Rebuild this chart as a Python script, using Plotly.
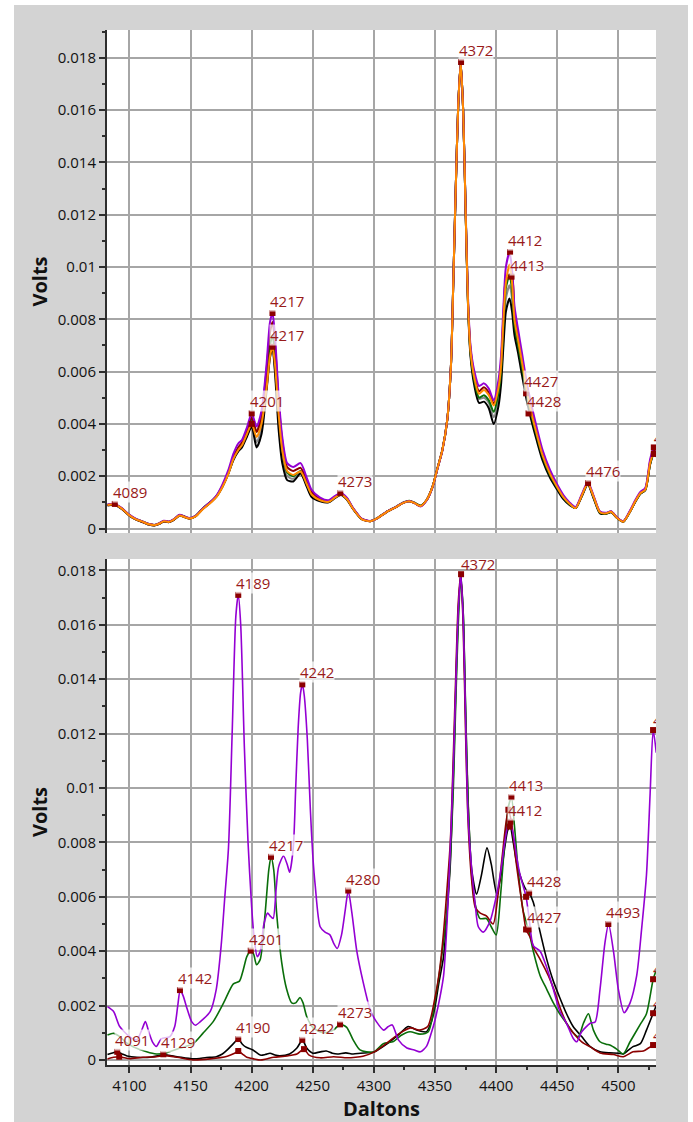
import plotly.graph_objects as go

# ---------------- data: top panel (6 overlaid spectra) ----------------
TOP_X = [4082, 4088, 4094, 4100, 4105, 4110, 4116, 4121, 4125, 4128,
         4132, 4136, 4141, 4145, 4149, 4154, 4160, 4166, 4171, 4176,
         4181, 4185, 4189, 4192, 4196, 4200, 4204, 4208, 4212, 4215,
         4217, 4219, 4222, 4225, 4229, 4234, 4240, 4245, 4249, 4256,
         4263, 4268, 4273, 4278, 4283, 4290, 4297, 4303, 4310, 4318,
         4324, 4329, 4333, 4338, 4343, 4348, 4352, 4356, 4360, 4363,
         4365, 4367, 4369, 4371, 4373, 4375, 4377, 4379, 4382, 4386,
         4390, 4394, 4398, 4402, 4404, 4406, 4408, 4411, 4413, 4415,
         4418, 4421, 4425, 4429, 4433, 4438, 4444, 4450, 4455, 4460,
         4465, 4470, 4475, 4480, 4485, 4490, 4494, 4499, 4504, 4509,
         4514, 4518, 4522, 4526, 4529, 4531]

TOP_ORANGE = [0.00090, 0.00092, 0.00075, 0.00050, 0.00036, 0.00027, 0.00016, 0.00013, 0.00020, 0.00028,
              0.00025, 0.00033, 0.00050, 0.00044, 0.00038, 0.00046, 0.00074, 0.00097, 0.00120, 0.00158,
              0.00210, 0.00265, 0.00300, 0.00318, 0.00360, 0.00400, 0.00350, 0.00400, 0.00530, 0.00660,
              0.00695, 0.00630, 0.00440, 0.00300, 0.00220, 0.00205, 0.00218, 0.00170, 0.00130, 0.00108,
              0.00102, 0.00118, 0.00130, 0.00112, 0.00075, 0.00036, 0.00028, 0.00040, 0.00062, 0.00082,
              0.00098, 0.00104, 0.00098, 0.00086, 0.00108, 0.00160, 0.00230, 0.00300, 0.00415, 0.00620,
              0.00950, 0.01310, 0.01620, 0.01784, 0.01600, 0.01220, 0.00860, 0.00680, 0.00580, 0.00515,
              0.00530, 0.00510, 0.00470, 0.00540, 0.00620, 0.00800, 0.00940, 0.01010, 0.00940, 0.00800,
              0.00720, 0.00640, 0.00530, 0.00440, 0.00365, 0.00280, 0.00210, 0.00158, 0.00120, 0.00095,
              0.00078, 0.00125, 0.00172, 0.00118, 0.00062, 0.00058, 0.00064, 0.00040, 0.00026, 0.00060,
              0.00105, 0.00135, 0.00148, 0.00250, 0.00290, 0.00280]

TOP_PURPLE = [0.00092, 0.00094, 0.00077, 0.00052, 0.00038, 0.00028, 0.00017, 0.00014, 0.00022, 0.00030,
              0.00027, 0.00035, 0.00053, 0.00046, 0.00040, 0.00048, 0.00077, 0.00100, 0.00125, 0.00168,
              0.00225, 0.00285, 0.00325, 0.00338, 0.00385, 0.00440, 0.00390, 0.00450, 0.00620, 0.00790,
              0.00824, 0.00740, 0.00510, 0.00350, 0.00250, 0.00235, 0.00250, 0.00195, 0.00148, 0.00118,
              0.00108, 0.00124, 0.00136, 0.00117, 0.00078, 0.00038, 0.00029, 0.00040, 0.00063, 0.00083,
              0.00099, 0.00105, 0.00098, 0.00084, 0.00106, 0.00158, 0.00228, 0.00298, 0.00415, 0.00620,
              0.00950, 0.01310, 0.01620, 0.01784, 0.01600, 0.01230, 0.00880, 0.00700, 0.00605, 0.00545,
              0.00555, 0.00535, 0.00490, 0.00570, 0.00660, 0.00850, 0.01000, 0.01057, 0.00990, 0.00850,
              0.00760, 0.00675, 0.00560, 0.00470, 0.00390, 0.00300, 0.00225, 0.00168, 0.00128, 0.00100,
              0.00082, 0.00130, 0.00178, 0.00122, 0.00065, 0.00060, 0.00066, 0.00042, 0.00028, 0.00064,
              0.00110, 0.00140, 0.00155, 0.00265, 0.00310, 0.00300]

TOP_BLACK = [0.00088, 0.00090, 0.00074, 0.00049, 0.00035, 0.00026, 0.00015, 0.00012, 0.00019, 0.00027,
             0.00024, 0.00032, 0.00050, 0.00044, 0.00038, 0.00047, 0.00076, 0.00100, 0.00122, 0.00160,
             0.00212, 0.00262, 0.00295, 0.00310, 0.00350, 0.00390, 0.00310, 0.00360, 0.00520, 0.00655,
             0.00690, 0.00600, 0.00380, 0.00250, 0.00185, 0.00180, 0.00210, 0.00160, 0.00120, 0.00104,
             0.00100, 0.00116, 0.00128, 0.00110, 0.00074, 0.00036, 0.00028, 0.00040, 0.00062, 0.00082,
             0.00098, 0.00104, 0.00098, 0.00086, 0.00108, 0.00160, 0.00230, 0.00300, 0.00415, 0.00620,
             0.00950, 0.01310, 0.01620, 0.01784, 0.01600, 0.01220, 0.00850, 0.00660, 0.00550, 0.00480,
             0.00485, 0.00460, 0.00400, 0.00470, 0.00550, 0.00700, 0.00830, 0.00880, 0.00830, 0.00740,
             0.00670, 0.00590, 0.00490, 0.00410, 0.00340, 0.00260, 0.00195, 0.00148, 0.00112, 0.00090,
             0.00078, 0.00122, 0.00168, 0.00112, 0.00058, 0.00056, 0.00062, 0.00040, 0.00026, 0.00060,
             0.00103, 0.00133, 0.00146, 0.00245, 0.00285, 0.00275]

TOP_GREEN = [0.00091, 0.00093, 0.00076, 0.00051, 0.00037, 0.00028, 0.00017, 0.00014, 0.00021, 0.00029,
             0.00026, 0.00034, 0.00052, 0.00046, 0.00039, 0.00048, 0.00077, 0.00100, 0.00123, 0.00163,
             0.00218, 0.00272, 0.00308, 0.00325, 0.00370, 0.00420, 0.00370, 0.00420, 0.00570, 0.00700,
             0.00740, 0.00660, 0.00460, 0.00310, 0.00215, 0.00200, 0.00220, 0.00172, 0.00132, 0.00110,
             0.00104, 0.00120, 0.00132, 0.00114, 0.00076, 0.00037, 0.00029, 0.00041, 0.00063, 0.00083,
             0.00100, 0.00106, 0.00100, 0.00088, 0.00108, 0.00160, 0.00230, 0.00300, 0.00415, 0.00620,
             0.00950, 0.01310, 0.01620, 0.01784, 0.01600, 0.01220, 0.00860, 0.00675, 0.00570, 0.00500,
             0.00510, 0.00490, 0.00446, 0.00520, 0.00600, 0.00780, 0.00920, 0.00970, 0.00910, 0.00780,
             0.00700, 0.00620, 0.00520, 0.00430, 0.00358, 0.00275, 0.00205, 0.00155, 0.00118, 0.00094,
             0.00078, 0.00124, 0.00171, 0.00116, 0.00060, 0.00057, 0.00063, 0.00040, 0.00026, 0.00060,
             0.00104, 0.00134, 0.00147, 0.00248, 0.00288, 0.00278]

TOP_RED = [0.00090, 0.00092, 0.00075, 0.00050, 0.00036, 0.00027, 0.00016, 0.00013, 0.00020, 0.00028,
           0.00025, 0.00033, 0.00051, 0.00045, 0.00038, 0.00047, 0.00075, 0.00098, 0.00122, 0.00162,
           0.00215, 0.00272, 0.00310, 0.00328, 0.00372, 0.00425, 0.00370, 0.00430, 0.00600, 0.00750,
           0.00790, 0.00710, 0.00490, 0.00335, 0.00235, 0.00220, 0.00232, 0.00182, 0.00140, 0.00112,
           0.00105, 0.00121, 0.00133, 0.00114, 0.00076, 0.00037, 0.00028, 0.00040, 0.00062, 0.00082,
           0.00098, 0.00104, 0.00098, 0.00086, 0.00108, 0.00160, 0.00230, 0.00300, 0.00415, 0.00620,
           0.00950, 0.01310, 0.01620, 0.01784, 0.01600, 0.01220, 0.00865, 0.00690, 0.00590, 0.00525,
           0.00540, 0.00520, 0.00478, 0.00550, 0.00630, 0.00815, 0.00950, 0.00963, 0.00963, 0.00820,
           0.00735, 0.00655, 0.00540, 0.00450, 0.00372, 0.00285, 0.00215, 0.00160, 0.00122, 0.00097,
           0.00079, 0.00126, 0.00173, 0.00119, 0.00063, 0.00059, 0.00065, 0.00041, 0.00027, 0.00061,
           0.00106, 0.00136, 0.00150, 0.00255, 0.00300, 0.00290]

TOP_GREY = [0.00089, 0.00091, 0.00074, 0.00049, 0.00035, 0.00026, 0.00015, 0.00012, 0.00019, 0.00027,
            0.00024, 0.00032, 0.00050, 0.00044, 0.00038, 0.00046, 0.00075, 0.00099, 0.00121, 0.00159,
            0.00211, 0.00264, 0.00298, 0.00314, 0.00355, 0.00395, 0.00330, 0.00380, 0.00530, 0.00660,
            0.00695, 0.00610, 0.00410, 0.00270, 0.00200, 0.00190, 0.00212, 0.00165, 0.00125, 0.00106,
            0.00101, 0.00117, 0.00129, 0.00111, 0.00075, 0.00036, 0.00028, 0.00040, 0.00062, 0.00082,
            0.00098, 0.00104, 0.00098, 0.00086, 0.00108, 0.00160, 0.00230, 0.00300, 0.00415, 0.00620,
            0.00950, 0.01310, 0.01620, 0.01784, 0.01600, 0.01220, 0.00855, 0.00670, 0.00565, 0.00495,
            0.00500, 0.00480, 0.00425, 0.00500, 0.00580, 0.00740, 0.00880, 0.00930, 0.00880, 0.00770,
            0.00690, 0.00610, 0.00505, 0.00422, 0.00350, 0.00268, 0.00200, 0.00152, 0.00115, 0.00092,
            0.00078, 0.00123, 0.00170, 0.00114, 0.00060, 0.00057, 0.00063, 0.00040, 0.00026, 0.00060,
            0.00104, 0.00134, 0.00147, 0.00247, 0.00287, 0.00277]

TOP_PEAK_X = [4088, 4200, 4200, 4217, 4217, 4272.5, 4371.3, 4411.4, 4412.6, 4424.5, 4426.5, 4475.2, 4529, 4529]
TOP_PEAK_Y = [0.00094, 0.0044, 0.0040, 0.00824, 0.00695, 0.00136, 0.01784, 0.01057, 0.00963, 0.00517, 0.0044, 0.00174, 0.0031, 0.00285]
TOP_PEAK_LABEL = ["4089", "4201", "", "4217", "4217", "4273", "4372", "4412", "4413", "4427", "4428", "4476", "4529", ""]

# ---------------- data: bottom panel (4 spectra) ----------------
BOT_PURPLE_X = [4082, 4087, 4092, 4100, 4106, 4110, 4113, 4116, 4119, 4122,
                4126, 4133, 4137, 4139.5, 4141.5, 4144, 4147, 4151, 4154, 4158,
                4166, 4171, 4175, 4178, 4181, 4184, 4187, 4189, 4191, 4194,
                4197, 4200, 4202, 4204.5, 4207, 4210, 4213, 4215, 4217.5, 4220,
                4222, 4226, 4229, 4231, 4234, 4236, 4238, 4240, 4241.5, 4243,
                4245.5, 4248, 4250, 4252, 4256, 4260, 4264, 4267, 4270, 4273.5,
                4276.5, 4279, 4282, 4286, 4291, 4297, 4302, 4308, 4311.5, 4315,
                4320, 4327, 4333, 4338, 4343, 4347, 4350, 4354, 4357, 4360,
                4362.5, 4365, 4367, 4369, 4371, 4373, 4375, 4377, 4380, 4382.7,
                4385.4, 4389.5, 4395, 4400.5, 4404, 4407, 4409.5, 4411.5, 4414, 4417,
                4419.6, 4424.5, 4427, 4430.4, 4436, 4441.4, 4446.8, 4452, 4457.6, 4463,
                4466, 4470, 4477, 4481, 4485, 4489, 4492, 4496, 4500, 4504.7,
                4509.6, 4515, 4519, 4523, 4526, 4528.5, 4531]
BOT_PURPLE_Y = [0.00196, 0.00178, 0.00123, 0.00086, 0.00074, 0.00110, 0.00141, 0.00100, 0.00065, 0.00050,
                0.00078, 0.00086, 0.00123, 0.00200, 0.00257, 0.00235, 0.00190, 0.00140, 0.00128, 0.00141,
                0.00178, 0.00260, 0.00420, 0.00600, 0.00780, 0.01200, 0.01630, 0.01710, 0.01600, 0.01150,
                0.00800, 0.00560, 0.00450, 0.00380, 0.00400, 0.00500, 0.00540, 0.00530, 0.00520, 0.00630,
                0.00710, 0.00750, 0.00720, 0.00690, 0.00780, 0.01000, 0.01220, 0.01350, 0.01381, 0.01340,
                0.01180, 0.00920, 0.00750, 0.00640, 0.00490, 0.00470, 0.00460, 0.00430, 0.00410, 0.00460,
                0.00550, 0.00623, 0.00540, 0.00400, 0.00290, 0.00184, 0.00141, 0.00110, 0.00122, 0.00129,
                0.00074, 0.00044, 0.00037, 0.00030, 0.00050, 0.00100, 0.00147, 0.00230, 0.00310, 0.00520,
                0.00780, 0.01080, 0.01380, 0.01650, 0.01786, 0.01630, 0.01250, 0.00900, 0.00700, 0.00580,
                0.00490, 0.00470, 0.00510, 0.00610, 0.00700, 0.00800, 0.00860, 0.00876, 0.00830, 0.00740,
                0.00680, 0.00600, 0.00520, 0.00420, 0.00400, 0.00340, 0.00260, 0.00180, 0.00135, 0.00080,
                0.00067, 0.00104, 0.00135, 0.00140, 0.00260, 0.00430, 0.00500, 0.00400, 0.00260, 0.00174,
                0.00210, 0.00310, 0.00480, 0.00680, 0.00980, 0.01213, 0.01130]

BOT_BLACK_X = [4082, 4086, 4090, 4094, 4098, 4106, 4117, 4128, 4139, 4152,
               4163, 4171, 4176, 4180, 4185, 4189, 4192, 4195, 4201, 4207,
               4211, 4215, 4219, 4223, 4231, 4237, 4241.5, 4245, 4250, 4256,
               4261, 4266, 4270, 4277, 4283, 4289, 4300, 4305, 4311, 4320,
               4328, 4335, 4343, 4347, 4350, 4353, 4357, 4360, 4362.5, 4365,
               4367, 4369, 4371, 4373, 4375, 4377, 4380, 4384, 4388, 4392.5,
               4396, 4400.5, 4404, 4407, 4409.5, 4411.5, 4414, 4417, 4421, 4424,
               4427, 4430.4, 4436, 4441.4, 4446.8, 4452, 4457.6, 4463, 4470, 4477,
               4485, 4493, 4500, 4504, 4508, 4512, 4518, 4523, 4528.5, 4531]
BOT_BLACK_Y = [0.00020, 0.00026, 0.00030, 0.00022, 0.00015, 0.00010, 0.00010, 0.00019, 0.00012, 0.00004,
               0.00009, 0.00012, 0.00022, 0.00037, 0.00060, 0.00077, 0.00060, 0.00048, 0.00037, 0.00018,
               0.00020, 0.00025, 0.00018, 0.00015, 0.00022, 0.00044, 0.00074, 0.00044, 0.00025, 0.00030,
               0.00033, 0.00025, 0.00022, 0.00026, 0.00022, 0.00025, 0.00029, 0.00042, 0.00060, 0.00092,
               0.00123, 0.00110, 0.00104, 0.00140, 0.00196, 0.00280, 0.00380, 0.00550, 0.00720, 0.01050,
               0.01360, 0.01640, 0.01786, 0.01650, 0.01280, 0.00950, 0.00700, 0.00610, 0.00680, 0.00780,
               0.00720, 0.00610, 0.00680, 0.00780, 0.00845, 0.00858, 0.00800, 0.00720, 0.00660, 0.00630,
               0.00615, 0.00580, 0.00470, 0.00370, 0.00290, 0.00230, 0.00170, 0.00123, 0.00086, 0.00049,
               0.00030, 0.00026, 0.00025, 0.00022, 0.00035, 0.00049, 0.00060, 0.00110, 0.00172, 0.00200]

BOT_RED_X = [4082, 4087, 4091.6, 4096, 4100, 4111, 4122, 4128, 4139, 4152,
             4166, 4180, 4186, 4189, 4193, 4196, 4202, 4207, 4212, 4218,
             4229, 4237, 4242.8, 4247, 4256, 4267, 4278, 4285, 4291, 4300,
             4310, 4321, 4330, 4337, 4344, 4350, 4354, 4357, 4360, 4362.5,
             4365, 4367, 4369, 4371, 4373, 4375, 4377, 4380, 4383, 4387,
             4392, 4397.5, 4401.6, 4405, 4408, 4410, 4413, 4416, 4419, 4422,
             4424.5, 4428, 4431, 4436, 4442.7, 4445.5, 4448, 4452, 4457.6, 4463,
             4470, 4477, 4485, 4496, 4504, 4512, 4520.5, 4525, 4528.5, 4531]
BOT_RED_Y = [0.00004, 0.00010, 0.00012, 0.00008, 0.00005, 0.00010, 0.00012, 0.00016, 0.00010, 0.00000,
             0.00004, 0.00014, 0.00025, 0.00033, 0.00020, 0.00010, 0.00004, 0.00000, 0.00004, 0.00010,
             0.00015, 0.00022, 0.00040, 0.00018, 0.00008, 0.00012, 0.00008, 0.00010, 0.00014, 0.00029,
             0.00060, 0.00098, 0.00118, 0.00110, 0.00123, 0.00230, 0.00340, 0.00470, 0.00640, 0.00800,
             0.01120, 0.01420, 0.01680, 0.01786, 0.01600, 0.01200, 0.00880, 0.00660, 0.00560, 0.00540,
             0.00530, 0.00500, 0.00610, 0.00750, 0.00870, 0.00920, 0.00860, 0.00740, 0.00640, 0.00550,
             0.00480, 0.00450, 0.00410, 0.00370, 0.00310, 0.00280, 0.00250, 0.00196, 0.00135, 0.00100,
             0.00067, 0.00048, 0.00026, 0.00020, 0.00012, 0.00030, 0.00033, 0.00045, 0.00055, 0.00060]

BOT_GREEN_X = [4082, 4087, 4092, 4097, 4103, 4114, 4122, 4130, 4141, 4152,
               4160, 4168.5, 4177, 4185, 4190, 4193, 4196, 4199.2, 4201.5, 4204,
               4207, 4211, 4214, 4215.8, 4218, 4220.4, 4224.5, 4228.6, 4232.7, 4236,
               4239.5, 4242, 4245, 4250.4, 4258.6, 4266.8, 4272.3, 4277.7, 4283, 4288.6,
               4299.5, 4307.7, 4316, 4322, 4329.5, 4337.7, 4344.5, 4351, 4356, 4359.5,
               4362.5, 4365, 4367, 4369, 4371, 4373, 4375, 4377, 4380, 4383,
               4386.8, 4392, 4396, 4400, 4403.7, 4407, 4410, 4412.5, 4415, 4418,
               4422, 4426.5, 4430.4, 4436, 4441.4, 4446.8, 4452, 4457.6, 4463, 4467.3,
               4471.4, 4475.5, 4479.6, 4485, 4490, 4493, 4498.6, 4504, 4509.6, 4517.8,
               4523, 4528.5, 4531]
BOT_GREEN_Y = [0.00092, 0.00098, 0.00086, 0.00065, 0.00049, 0.00030, 0.00022, 0.00026, 0.00043, 0.00060,
               0.00098, 0.00141, 0.00210, 0.00280, 0.00290, 0.00330, 0.00380, 0.00402, 0.00390, 0.00350,
               0.00370, 0.00540, 0.00700, 0.00747, 0.00700, 0.00540, 0.00360, 0.00260, 0.00210, 0.00210,
               0.00230, 0.00210, 0.00160, 0.00118, 0.00100, 0.00110, 0.00131, 0.00120, 0.00074, 0.00037,
               0.00029, 0.00060, 0.00068, 0.00090, 0.00104, 0.00095, 0.00104, 0.00245, 0.00400, 0.00540,
               0.00740, 0.01000, 0.01320, 0.01600, 0.01770, 0.01650, 0.01300, 0.00960, 0.00680, 0.00570,
               0.00520, 0.00520, 0.00490, 0.00460, 0.00610, 0.00800, 0.00930, 0.00966, 0.00860, 0.00700,
               0.00550, 0.00480, 0.00400, 0.00310, 0.00260, 0.00210, 0.00170, 0.00135, 0.00100, 0.00086,
               0.00135, 0.00170, 0.00110, 0.00067, 0.00058, 0.00055, 0.00040, 0.00022, 0.00067, 0.00130,
               0.00170, 0.00297, 0.00330]

BOT_PEAK_X = [4090, 4091.6, 4127.7, 4141.3, 4189, 4189, 4189, 4199.2, 4215.8, 4241.4,
              4241.4, 4242.8, 4272.3, 4279, 4371.3, 4412.5, 4410, 4411.6, 4411, 4424.5,
              4427, 4424.5, 4426.5, 4491.8, 4528.4, 4528.4, 4528.4, 4528.4]
BOT_PEAK_Y = [0.0003, 0.00012, 0.00021, 0.00257, 0.0171, 0.00077, 0.00033, 0.00402, 0.00747, 0.01381,
              0.00074, 0.0004, 0.00131, 0.00623, 0.01786, 0.00966, 0.0092, 0.00876, 0.00858, 0.0060,
              0.00615, 0.0048, 0.0048, 0.0050, 0.01213, 0.00297, 0.00172, 0.00055]
BOT_PEAK_LABEL = ["4091", "", "4129", "4142", "4189", "4190", "", "4201", "4217", "4242",
                  "4242", "", "4273", "4280", "4372", "4413", "", "4412", "", "",
                  "4428", "", "4427", "4493", "4529", "4529", "4529", "4529"]

for xs, ys in [(TOP_X, TOP_ORANGE), (TOP_X, TOP_PURPLE), (TOP_X, TOP_BLACK), (TOP_X, TOP_GREEN),
               (TOP_X, TOP_RED), (TOP_X, TOP_GREY), (BOT_PURPLE_X, BOT_PURPLE_Y),
               (BOT_BLACK_X, BOT_BLACK_Y), (BOT_RED_X, BOT_RED_Y), (BOT_GREEN_X, BOT_GREEN_Y),
               (TOP_PEAK_X, TOP_PEAK_Y), (BOT_PEAK_X, BOT_PEAK_Y)]:
    assert len(xs) == len(ys), (len(xs), len(ys))

# ---------------- layout constants ----------------
W, H = 693, 1122
ML, MR, MT, MB = 107, 37, 30, 57
PLOT_W = W - ML - MR
PLOT_H = H - MT - MB
TOP_PX = (30, 533)
BOT_PX = (559, 1065)
X_RANGE = [4081.6, 4530.8]
TOP_Y_RANGE = [-0.000172, 0.019063]
BOT_Y_RANGE = [-0.000184, 0.018419]

FONT = "Open Sans"
GRID = "#a6a6a6"
AXIS = "#2e2e2e"
MARK = "#8b0000"
LABEL = "#981a1a"
C_PURPLE, C_ORANGE, C_BLACK = "#9400d3", "#ff8c00", "#000000"
C_GREEN, C_RED, C_GREY = "#0a6e0a", "#8b0000", "#8a8a8a"

fig = go.Figure()


def line(xs, ys, color, width, xa, ya):
    fig.add_trace(go.Scatter(x=xs, y=ys, mode="lines",
                             line=dict(color=color, width=width, shape="spline", smoothing=0.7),
                             xaxis=xa, yaxis=ya, hoverinfo="skip", showlegend=False,
                             cliponaxis=True))


# top panel (x2 / y2), orange drawn last
for ys, c in [(TOP_GREY, C_GREY), (TOP_BLACK, C_BLACK), (TOP_GREEN, C_GREEN),
              (TOP_RED, C_RED), (TOP_PURPLE, C_PURPLE), (TOP_ORANGE, C_ORANGE)]:
    line(TOP_X, ys, c, 2, "x2", "y2")

# bottom panel (x / y)
for xs, ys, c in [(BOT_BLACK_X, BOT_BLACK_Y, C_BLACK), (BOT_GREEN_X, BOT_GREEN_Y, C_GREEN),
                  (BOT_RED_X, BOT_RED_Y, C_RED), (BOT_PURPLE_X, BOT_PURPLE_Y, C_PURPLE)]:
    line(xs, ys, c, 1.6, "x", "y")


def peaks(xs, ys, labels, xa, ya, yrange, dom_px):
    fig.add_trace(go.Scatter(x=xs, y=ys, mode="markers",
                             marker=dict(symbol="square", size=6, color=MARK, line=dict(width=0)),
                             xaxis=xa, yaxis=ya, hoverinfo="skip", showlegend=False, cliponaxis=True))
    dpp_y = (yrange[1] - yrange[0]) / (dom_px[1] - dom_px[0])
    dpp_x = (X_RANGE[1] - X_RANGE[0]) / PLOT_W
    cx, cy, ct = [], [], []
    for x, y, t in zip(xs, ys, labels):
        if not t:
            continue
        if y + 20 * dpp_y > yrange[1] or x + 36 * dpp_x > X_RANGE[1]:
            cx.append(x); cy.append(y); ct.append(t)
        else:
            fig.add_annotation(x=x, y=y, xref=xa, yref=ya, text=t, showarrow=False,
                               xanchor="left", yanchor="bottom", xshift=-3, yshift=1,
                               font=dict(family=FONT, size=15, color=LABEL),
                               bgcolor="rgba(255,255,255,0.72)", borderpad=0)
    if cx:
        fig.add_trace(go.Scatter(x=cx, y=cy, text=ct, mode="text", textposition="top right",
                                 textfont=dict(family=FONT, size=15, color=LABEL),
                                 xaxis=xa, yaxis=ya, hoverinfo="skip", showlegend=False,
                                 cliponaxis=True))


peaks(TOP_PEAK_X, TOP_PEAK_Y, TOP_PEAK_LABEL, "x2", "y2", TOP_Y_RANGE, TOP_PX)
peaks(BOT_PEAK_X, BOT_PEAK_Y, BOT_PEAK_LABEL, "x", "y", BOT_Y_RANGE, BOT_PX)


def paper_x(px):
    return (px - ML) / PLOT_W


def paper_y(py):
    return (H - MB - py) / PLOT_H


top_dom = [paper_y(TOP_PX[1]), 1.0]
bot_dom = [0.0, paper_y(BOT_PX[0])]

grid = dict(showgrid=True, gridcolor=GRID, gridwidth=2, zeroline=False, automargin=False)
tickfont = dict(family=FONT, size=15, color="#111111")
title_font = dict(family=FONT, size=20, color="#111111")

fig.update_layout(
    width=W, height=H,
    margin=dict(l=ML, r=MR, t=MT, b=MB, pad=0, autoexpand=False),
    paper_bgcolor="#d3d3d3", plot_bgcolor="#ffffff",
    showlegend=False,
    font=dict(family=FONT, size=15, color="#111111"),
    xaxis=dict(domain=[0, 1], anchor="y", range=X_RANGE, tick0=4100, dtick=50,
               ticks="outside", ticklen=6, tickwidth=1.5, tickcolor=AXIS,
               showline=True, linecolor=AXIS, linewidth=2, tickfont=tickfont,
               minor=dict(tick0=4100, dtick=25, ticks="outside", ticklen=3, tickwidth=1.5,
                          tickcolor=AXIS, showgrid=False),
               title=dict(text="<b>Daltons</b>", font=title_font, standoff=9),
               **grid),
    xaxis2=dict(domain=[0, 1], anchor="y2", matches="x", range=X_RANGE, tick0=4100, dtick=50,
                showticklabels=False, ticks="", showline=False, **grid),
    yaxis=dict(domain=bot_dom, anchor="x", range=BOT_Y_RANGE, tick0=0, dtick=0.002,
               ticks="outside", ticklen=6, tickwidth=1.5, tickcolor=AXIS,
               showline=True, linecolor=AXIS, linewidth=2, tickfont=tickfont,
               minor=dict(dtick=0.001, ticks="outside", ticklen=3, tickwidth=1.5,
                          tickcolor=AXIS, showgrid=False),
               title=dict(text="<b>Volts</b>", font=title_font, standoff=5),
               **grid),
    yaxis2=dict(domain=top_dom, anchor="x2", range=TOP_Y_RANGE, tick0=0, dtick=0.002,
                ticks="outside", ticklen=6, tickwidth=1.5, tickcolor=AXIS,
                showline=True, linecolor=AXIS, linewidth=2, tickfont=tickfont,
                minor=dict(dtick=0.001, ticks="outside", ticklen=3, tickwidth=1.5,
                           tickcolor=AXIS, showgrid=False),
                title=dict(text="<b>Volts</b>", font=title_font, standoff=5),
                **grid),
)

# white page frame around the grey chart panel
frame = dict(type="rect", xref="paper", yref="paper", fillcolor="#ffffff",
             line=dict(width=0), layer="below")
fig.add_shape(x0=paper_x(-10), x1=paper_x(14), y0=paper_y(H + 10), y1=paper_y(-10), **frame)
fig.add_shape(x0=paper_x(-10), x1=paper_x(W + 10), y0=paper_y(5), y1=paper_y(-10), **frame)
fig.add_shape(x0=paper_x(688), x1=paper_x(W + 10), y0=paper_y(H + 10), y1=paper_y(-10), **frame)

fig.write_html("out.html")
